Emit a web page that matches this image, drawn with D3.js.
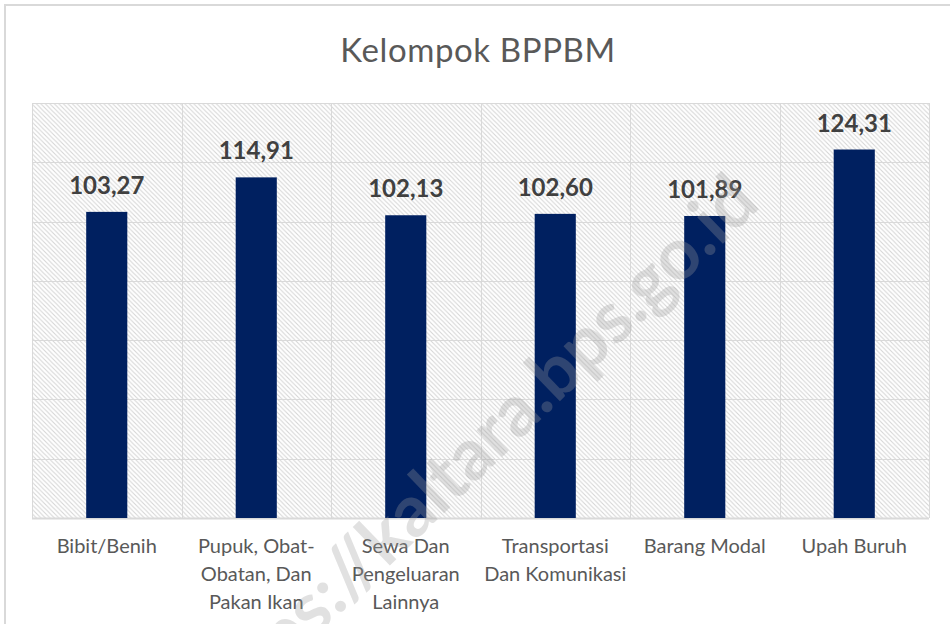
<!DOCTYPE html>
<html>
<head>
<meta charset="utf-8">
<script src="https://cdnjs.cloudflare.com/ajax/libs/d3/7.8.5/d3.min.js"></script>
<style>
  body { margin: 0; background: #fff; }
  svg { display: block; font-family: Lato, "Open Sans", sans-serif; }
</style>
</head>
<body>
<div class="canvas"></div>
<script>
// data
var categories = ["Bibit/Benih", "Pupuk, Obat-Obatan, Dan Pakan Ikan", "Sewa Dan Pengeluaran Lainnya",
                  "Transportasi Dan Komunikasi", "Barang Modal", "Upah Buruh"];
var categoryLines = [["Bibit/Benih"], ["Pupuk, Obat-", "Obatan, Dan", "Pakan Ikan"],
                     ["Sewa Dan", "Pengeluaran", "Lainnya"], ["Transportasi", "Dan Komunikasi"],
                     ["Barang Modal"], ["Upah Buruh"]];
var values = [103.27, 114.91, 102.13, 102.60, 101.89, 124.31];
var yTicks = [0, 20, 40, 60, 80, 100, 120, 140];

var width = 950, height = 624;
var plot = {left: 32, right: 929, top: 103, bottom: 518};

var svg = d3.select(".canvas")
  .append("svg")
  .attr("width", width)
  .attr("height", height);

// hatch pattern
var defs = svg.append("defs");
var pat = defs.append("pattern")
  .attr("id", "hatch")
  .attr("patternUnits", "userSpaceOnUse")
  .attr("width", 4.5)
  .attr("height", 4.5);
pat.append("rect").attr("width", 4.5).attr("height", 4.5).attr("fill", "#fff");
pat.append("path")
  .attr("d", "M-1,-1 L5.5,5.5 M-1,3.5 L1,5.5 M3.5,-1 L5.5,1")
  .attr("stroke", "#d4d4d4")
  .attr("stroke-width", 1);

// chart frame
svg.append("rect")
  .attr("x", 5).attr("y", 5)
  .attr("width", 980).attr("height", 660)
  .attr("fill", "#fff")
  .attr("stroke", "#d9d9d9")
  .attr("stroke-width", 2);

var x = d3.scaleBand()
  .domain(categories)
  .range([plot.left, plot.right])
  .paddingInner(0).paddingOuter(0);

var y = d3.scaleLinear()
  .domain([0, 140])
  .range([plot.bottom, plot.top]);

// plot background
svg.append("rect")
  .attr("x", plot.left).attr("y", plot.top)
  .attr("width", plot.right - plot.left)
  .attr("height", plot.bottom - plot.top)
  .attr("fill", "url(#hatch)");

// horizontal gridlines
svg.append("g")
  .selectAll("line")
  .data(yTicks)
  .enter().append("line")
  .attr("x1", plot.left).attr("x2", plot.right)
  .attr("y1", function(d){ return Math.round(y(d)) + 0.5; })
  .attr("y2", function(d){ return Math.round(y(d)) + 0.5; })
  .attr("stroke", "#d9d9d9")
  .attr("stroke-width", function(d){ return d === 0 ? 2 : 1; });

// vertical category dividers
var edges = categories.map(function(c){ return x(c); }).concat([plot.right]);
svg.append("g")
  .selectAll("line")
  .data(edges)
  .enter().append("line")
  .attr("x1", function(d){ return Math.round(d) + 0.5; })
  .attr("x2", function(d){ return Math.round(d) + 0.5; })
  .attr("y1", plot.top).attr("y2", plot.bottom)
  .attr("stroke", "#d9d9d9")
  .attr("stroke-width", 1);

// bars
var barW = x.bandwidth() * 0.275;
svg.append("g")
  .selectAll("rect")
  .data(values)
  .enter().append("rect")
  .attr("x", function(d, i){ return x(categories[i]) + x.bandwidth()/2 - barW/2; })
  .attr("y", function(d){ return y(d); })
  .attr("width", barW)
  .attr("height", function(d){ return y(0) - y(d); })
  .attr("fill", "#002060");

// value labels
svg.append("g")
  .selectAll("text")
  .data(values)
  .enter().append("text")
  .attr("x", function(d, i){ return x(categories[i]) + x.bandwidth()/2; })
  .attr("y", function(d){ return y(d) - 18; })
  .attr("text-anchor", "middle")
  .attr("font-size", 24)
  .attr("font-weight", "bold")
  .attr("fill", "#404040")
  .text(function(d){ return d.toFixed(2).replace(".", ","); });

// category labels
var catG = svg.append("g")
  .selectAll("text")
  .data(categoryLines)
  .enter().append("text")
  .attr("text-anchor", "middle")
  .attr("font-size", 20)
  .attr("fill", "#595959");
catG.each(function(lines, i){
  var t = d3.select(this);
  lines.forEach(function(line, j){
    t.append("tspan")
      .attr("x", x(categories[i]) + x.bandwidth()/2)
      .attr("y", 553 + j * 28)
      .text(line);
  });
});

// title
svg.append("text")
  .attr("x", 478)
  .attr("y", 62)
  .attr("text-anchor", "middle")
  .attr("font-size", 33)
  .attr("letter-spacing", 0.6)
  .attr("fill", "#595959")
  .text("Kelompok BPPBM");

// watermark
svg.append("text")
  .attr("transform", "translate(762,206) rotate(-44)")
  .attr("text-anchor", "end")
  .attr("font-size", 72)
  .attr("font-weight", "bold")
  .attr("fill", "#9a9a9a")
  .attr("fill-opacity", 0.3)
  .text("https://kaltara.bps.go.id");
</script>
</body>
</html>
